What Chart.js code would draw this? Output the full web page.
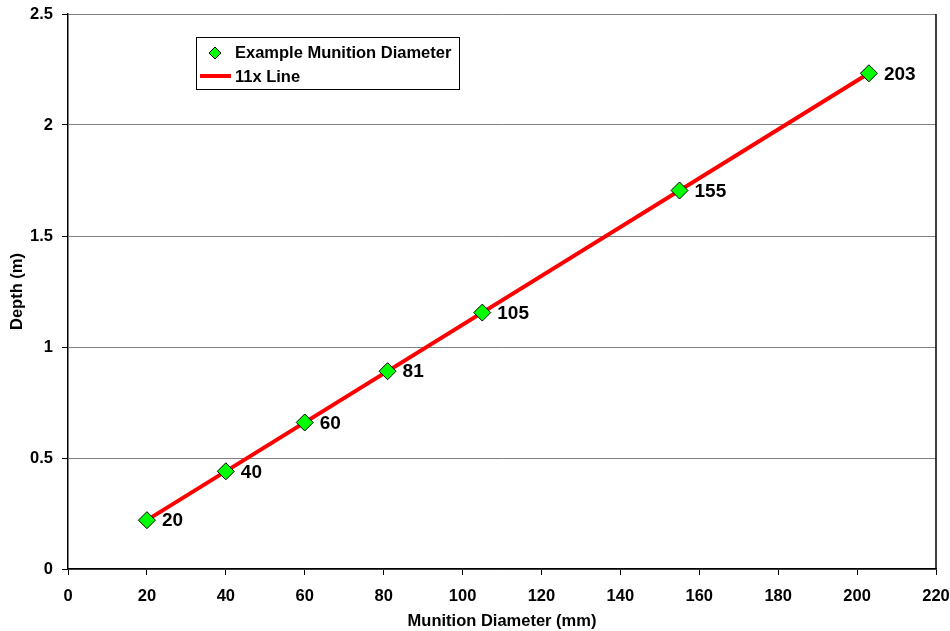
<!DOCTYPE html>
<html>
<head>
<meta charset="utf-8">
<script src="https://cdn.jsdelivr.net/npm/chart.js@4"></script>
<style>
  html, body { margin: 0; padding: 0; background: #fff; }
  #wrap { width: 950px; height: 631px; }
</style>
</head>
<body>
<div id="wrap"><canvas id="chart" width="950" height="631"></canvas></div>
<script>
// Данные
const diameters = [20, 40, 60, 81, 105, 155, 203];
const depths = [0.22, 0.44, 0.66, 0.891, 1.155, 1.705, 2.233];
const pointLabels = ['20', '40', '60', '81', '105', '155', '203'];
const lineX = [20, 203];
const lineY = [0.22, 2.233];
const xTicks = [0, 20, 40, 60, 80, 100, 120, 140, 160, 180, 200, 220];
const yTicks = [0, 0.5, 1, 1.5, 2, 2.5];

const FONT = 'Liberation Sans, Arial, sans-serif';

// Подписи точек, рамка справа и легенда
const extras = {
    id: 'extras',
    afterDatasetsDraw(chart) {
        const ctx = chart.ctx;
        const area = chart.chartArea;
        ctx.save();
        // правая рамка
        ctx.strokeStyle = '#000';
        ctx.lineWidth = 1.5;
        ctx.beginPath();
        ctx.moveTo(area.right, area.top);
        ctx.lineTo(area.right, area.bottom);
        ctx.stroke();

        // подписи точек
        const meta = chart.getDatasetMeta(1);
        ctx.fillStyle = '#000';
        ctx.font = 'bold 19px ' + FONT;
        ctx.textAlign = 'left';
        ctx.textBaseline = 'middle';
        meta.data.forEach((pt, i) => {
            ctx.fillText(pointLabels[i], pt.x + 15, pt.y + 1);
        });

        // легенда
        const lx = 196, ly = 37, lw = 263, lh = 52;
        ctx.fillStyle = '#fff';
        ctx.fillRect(lx, ly, lw, lh);
        ctx.strokeStyle = '#000';
        ctx.lineWidth = 1;
        ctx.strokeRect(lx + 0.5, ly + 0.5, lw, lh);

        // ромб
        const mx = 215, my = 53, r = 6;
        ctx.beginPath();
        ctx.moveTo(mx, my - r);
        ctx.lineTo(mx + r, my);
        ctx.lineTo(mx, my + r);
        ctx.lineTo(mx - r, my);
        ctx.closePath();
        ctx.fillStyle = '#00FF00';
        ctx.fill();
        ctx.strokeStyle = '#000';
        ctx.stroke();

        // линия
        ctx.strokeStyle = '#FF0000';
        ctx.lineWidth = 4;
        ctx.beginPath();
        ctx.moveTo(200, 76);
        ctx.lineTo(231, 76);
        ctx.stroke();

        ctx.fillStyle = '#000';
        ctx.font = 'bold 16.5px ' + FONT;
        ctx.fillText('Example Munition Diameter', 235, 53);
        ctx.fillText('11x Line', 235, 77);
        ctx.restore();
    }
};

const ctx = document.getElementById('chart').getContext('2d');
new Chart(ctx, {
    type: 'scatter',
    data: {
        datasets: [
            {
                label: '11x Line',
                data: lineX.map((x, i) => ({ x: x, y: lineY[i] })),
                showLine: true,
                borderColor: '#FF0000',
                borderWidth: 4,
                pointRadius: 0,
                order: 2
            },
            {
                label: 'Example Munition Diameter',
                data: diameters.map((x, i) => ({ x: x, y: depths[i] })),
                pointStyle: 'rectRot',
                pointRadius: 8.5,
                pointBackgroundColor: '#00FF00',
                pointBorderColor: '#000',
                pointBorderWidth: 1,
                order: 1
            }
        ]
    },
    options: {
        responsive: false,
        animation: false,
        layout: { padding: { top: 14, right: 14, left: 0, bottom: 0 } },
        plugins: {
            legend: { display: false },
            tooltip: { enabled: false }
        },
        scales: {
            x: {
                type: 'linear',
                min: 0,
                max: 220,
                afterBuildTicks: (scale) => { scale.ticks = xTicks.map(v => ({ value: v })); },
                afterFit: (scale) => {
                    scale.height = 62;
                    scale.paddingLeft = 0;
                    scale.paddingRight = 0;
                },
                border: { color: '#000', width: 1.5 },
                grid: { drawOnChartArea: false, tickLength: 6, tickColor: '#000' },
                ticks: {
                    color: '#000',
                    font: { family: FONT, size: 16.5, weight: 'bold' },
                    padding: 12,
                    maxRotation: 0
                },
                title: {
                    display: true,
                    text: 'Munition Diameter (mm)',
                    color: '#000',
                    font: { family: FONT, size: 16.5, weight: 'bold' },
                    padding: { top: 0, bottom: 0 }
                }
            },
            y: {
                type: 'linear',
                min: 0,
                max: 2.5,
                afterBuildTicks: (scale) => { scale.ticks = yTicks.map(v => ({ value: v })); },
                afterFit: (scale) => {
                    scale.width = 68;
                    scale.paddingTop = 0;
                    scale.paddingBottom = 0;
                },
                border: { color: '#000', width: 1.5 },
                grid: { color: '#808080', lineWidth: 1, tickLength: 6, tickColor: '#000' },
                ticks: {
                    color: '#000',
                    font: { family: FONT, size: 16.5, weight: 'bold' },
                    padding: 9,
                    callback: (v) => String(v)
                },
                title: {
                    display: true,
                    text: 'Depth (m)',
                    color: '#000',
                    font: { family: FONT, size: 16.5, weight: 'bold' },
                    padding: { top: 8, bottom: 0 }
                }
            }
        }
    },
    plugins: [extras]
});
</script>
</body>
</html>
